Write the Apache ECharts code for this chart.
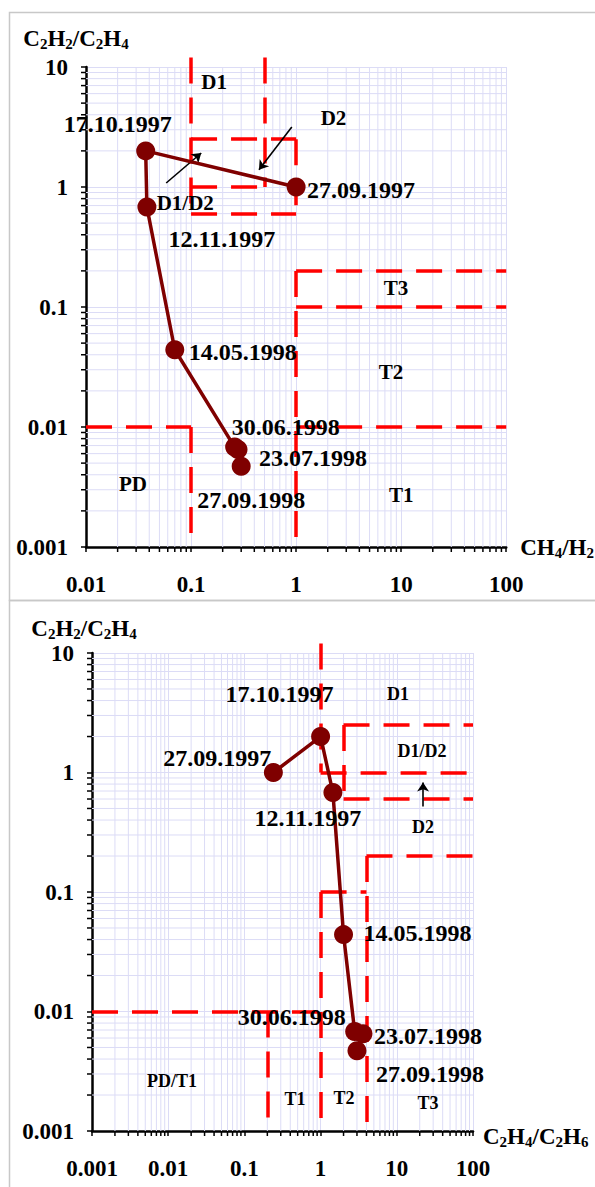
<!DOCTYPE html>
<html>
<head>
<meta charset="utf-8">
<script src="https://cdn.jsdelivr.net/npm/echarts@6/dist/echarts.min.js"></script>
<style>
html,body{margin:0;padding:0;background:#fff;}
#chart{width:595px;height:1187px;}
</style>
</head>
<body>
<div id="chart"></div>
<script>
// ---------- DATA ----------
const dates = ['27.09.1997','17.10.1997','12.11.1997','14.05.1998','30.06.1998','23.07.1998','27.09.1998'];
const ch4_h2 = [1.0, 0.037, 0.038, 0.07, 0.26, 0.28, 0.30];        // top chart x
const c2h2_c2h4 = [1.0, 2.0, 0.68, 0.044, 0.0068, 0.0065, 0.0047]; // both charts y
const c2h4_c2h6 = [0.24, 1.0, 1.45, 2.0, 2.8, 3.6, 3.0];          // bottom chart x

// zone boundaries (data coordinates) - top: CH4/H2 vs C2H2/C2H4
const zonesTop = [
  [[0.1, 12], [0.1, 0.6]],
  [[0.5, 12], [0.5, 1]],
  [[0.1, 2.5], [1, 2.5]],
  [[0.1, 1], [0.5, 1]],
  [[0.1, 0.6], [1, 0.6]],
  [[1, 2.5], [1, 0.6]],
  [[1, 0.2], [100, 0.2]],
  [[1, 0.1], [100, 0.1]],
  [[1, 0.2], [1, 0.001]],
  [[0.01, 0.01], [0.1, 0.01]],
  [[0.1, 0.01], [0.1, 0.001]],
  [[1, 0.01], [100, 0.01]]
];
// zone boundaries - bottom: C2H4/C2H6 vs C2H2/C2H4
const zonesBottom = [
  [[1, 12], [1, 1]],
  [[1, 1], [100, 1]],
  [[2, 2.5], [2, 0.6]],
  [[2, 2.5], [100, 2.5]],
  [[2, 0.6], [100, 0.6]],
  [[4, 0.2], [100, 0.2]],
  [[4, 0.2], [4, 0.001]],
  [[1, 0.1], [4, 0.1]],
  [[1, 0.1], [1, 0.001]],
  [[0.001, 0.01], [1, 0.01]],
  [[0.2, 0.01], [0.2, 0.001]]
];
// zone names (data coordinates)
const zoneNamesTop = ['D1', 'D2', 'D1/D2', 'T3', 'T2', 'T1', 'PD'];
const zoneXTop = [0.166, 2.27, 0.088, 8.95, 8.0, 10.0, 0.028];
const zoneYTop = [7.5, 3.76, 0.735, 0.144, 0.0287, 0.0027, 0.00335];
const zoneNamesBottom = ['D1', 'D1/D2', 'D2', 'PD/T1', 'T1', 'T2', 'T3'];
const zoneXBottom = [10.4, 21.4, 22.1, 0.0112, 0.46, 2.03, 25.6];
const zoneYBottom = [4.5, 1.5, 0.353, 0.0026, 0.00184, 0.0019, 0.00173];
// arrows (data coordinates)
const arrowsTop = [
  [[0.058, 1.08], [0.125, 1.92]],
  [[0.91, 3.16], [0.443, 1.39]]
];
const arrowsBottom = [
  [[22.1, 0.52], [22.1, 0.825]]
];
// tick decades
const xDecTop = [-2, -1, 0, 1];
const yDec = [-3, -2, -1, 0];
const xDecBottom = [-3, -2, -1, 0, 1];

// ---------- STYLE ----------
const FONT = '"Liberation Serif","Times New Roman",serif';
const GRID_C = '#dcdcf6';
const LINE_C = '#7f0000';
// label offsets (pixels from point centre) for each date
const offTop = [[65, 3], [-28, -27], [75, 32], [68, 2], [51, -20], [75, 9], [10, 34]];
const offBottom = [[-56, -15], [-41, -43], [-25, 25], [74, -2], [-63, -15], [65, 2], [73, 23]];

function minorData(xDec, yDecs, xmin, ymin) {
  const out = [];
  xDec.forEach(d => { for (let k = 2; k <= 9; k++) out.push([k * Math.pow(10, d), ymin, 0]); });
  yDecs.forEach(d => { for (let k = 2; k <= 9; k++) out.push([xmin, k * Math.pow(10, d), 1]); });
  return out;
}
function minorRender(params, api) {
  const cs = params.coordSys;
  const kind = api.value(2);
  const p = api.coord([api.value(0), api.value(1)]);
  if (kind === 0) {
    return {type: 'group', children: [
      {type: 'line', shape: {x1: p[0], y1: cs.y, x2: p[0], y2: cs.y + cs.height}, style: {stroke: GRID_C, lineWidth: 1}},
      {type: 'line', shape: {x1: p[0], y1: cs.y + cs.height, x2: p[0], y2: cs.y + cs.height + 5}, style: {stroke: '#000', lineWidth: 1.5}}
    ]};
  }
  return {type: 'group', children: [
    {type: 'line', shape: {x1: cs.x, y1: p[1], x2: cs.x + cs.width, y2: p[1]}, style: {stroke: GRID_C, lineWidth: 1}},
    {type: 'line', shape: {x1: cs.x - 5, y1: p[1], x2: cs.x, y2: p[1]}, style: {stroke: '#000', lineWidth: 1.5}}
  ]};
}

const richSub = {
  n: {fontSize: 23, fontWeight: 'bold', fontFamily: FONT, color: '#000', lineHeight: 26},
  s: {fontSize: 15, fontWeight: 'bold', fontFamily: FONT, color: '#000', lineHeight: 14, verticalAlign: 'bottom'}
};

function axisCommon(extra) {
  return Object.assign({
    type: 'log', logBase: 10,
    axisLine: {show: true, onZero: false, lineStyle: {color: '#000', width: 2.5}},
    axisTick: {show: true, inside: false, length: 5, lineStyle: {color: '#000', width: 1.5}},
    axisLabel: {fontSize: 23, fontWeight: 'bold', fontFamily: FONT, color: '#000'},
    splitLine: {show: true, lineStyle: {color: GRID_C, width: 1}},
    nameTextStyle: {rich: richSub}
  }, extra);
}

function seriesFor(gi, xs, offs, zones, zNames, zX, zY, arrows, zoneFont, xDec, xmin) {
  return [
    {
      type: 'custom', xAxisIndex: gi, yAxisIndex: gi, silent: true, z: 1,
      renderItem: minorRender, data: minorData(xDec, yDec, xmin, 0.001), clip: false
    },
    {
      type: 'lines', coordinateSystem: 'cartesian2d', xAxisIndex: gi, yAxisIndex: gi, silent: true, z: 3,
      clip: false, polyline: false, symbol: ['none', 'none'],
      lineStyle: {color: '#ff0000', width: 3.5, type: [26, 14], opacity: 1},
      data: zones.map(c => ({coords: c}))
    },
    {
      type: 'lines', coordinateSystem: 'cartesian2d', xAxisIndex: gi, yAxisIndex: gi, silent: true, z: 4,
      polyline: false, symbol: ['none', 'arrow'], symbolSize: 9,
      lineStyle: {color: '#000', width: 1.6, opacity: 1},
      data: arrows.map(c => ({coords: c}))
    },
    {
      type: 'scatter', xAxisIndex: gi, yAxisIndex: gi, silent: true, z: 4,
      symbol: 'circle', symbolSize: 1, itemStyle: {color: '#ffffff', opacity: 1},
      label: {show: true, position: 'inside', formatter: p => p.name,
        fontSize: zoneFont, fontWeight: 'bold', fontFamily: FONT, color: '#000000',
        textBorderWidth: 0, textBorderColor: 'transparent', opacity: 1},
      data: zNames.map((n, i) => ({name: n, value: [zX[i], zY[i]]}))
    },
    {
      type: 'line', xAxisIndex: gi, yAxisIndex: gi, z: 5,
      symbol: 'circle', symbolSize: 19, showAllSymbol: true,
      lineStyle: {color: LINE_C, width: 3.5},
      itemStyle: {color: LINE_C},
      label: {show: true, position: 'inside', formatter: p => p.name,
        fontSize: 24, fontWeight: 'bold', fontFamily: FONT, color: '#000',
        textBorderWidth: 0, textBorderColor: 'transparent'},
      data: dates.map((d, i) => ({name: d, value: [xs[i], c2h2_c2h4[i]], label: {offset: offs[i]}}))
    }
  ];
}

const chart = echarts.init(document.getElementById('chart'), null, {renderer: 'svg', width: 595, height: 1187});
const option = {
  animation: false,
  backgroundColor: '#fff',
  grid: [
    {left: 86, top: 67, width: 423, height: 480},
    {left: 92, top: 653, width: 381, height: 478}
  ],
  xAxis: [
    axisCommon({gridIndex: 0, min: 0.01, max: 100,
      axisLabel: {margin: 26, fontSize: 23, fontWeight: 'bold', fontFamily: FONT, color: '#000'},
      name: '{n|CH}{s|4}{n|/H}{s|2}', nameLocation: 'end', nameGap: 14,
      nameTextStyle: {rich: richSub, align: 'left', verticalAlign: 'middle'}}),
    axisCommon({gridIndex: 1, min: 0.001, max: 100,
      axisLabel: {margin: 26, fontSize: 23, fontWeight: 'bold', fontFamily: FONT, color: '#000'},
      name: '{n|C}{s|2}{n|H}{s|4}{n|/C}{s|2}{n|H}{s|6}', nameLocation: 'end', nameGap: 10,
      nameTextStyle: {rich: richSub, align: 'left', verticalAlign: 'middle', padding: [10, 0, 0, 0]}})
  ],
  yAxis: [
    axisCommon({gridIndex: 0, min: 0.001, max: 10,
      axisLabel: {margin: 18, fontSize: 23, fontWeight: 'bold', fontFamily: FONT, color: '#000'},
      name: '{n|C}{s|2}{n|H}{s|2}{n|/C}{s|2}{n|H}{s|4}', nameLocation: 'end', nameGap: 16,
      nameTextStyle: {rich: richSub, align: 'center', verticalAlign: 'bottom', padding: [0, 20, 0, 0]}}),
    axisCommon({gridIndex: 1, min: 0.001, max: 10,
      axisLabel: {margin: 18, fontSize: 23, fontWeight: 'bold', fontFamily: FONT, color: '#000'},
      name: '{n|C}{s|2}{n|H}{s|2}{n|/C}{s|2}{n|H}{s|4}', nameLocation: 'end', nameGap: 12,
      nameTextStyle: {rich: richSub, align: 'center', verticalAlign: 'bottom', padding: [0, 16, 0, 0]}})
  ],
  graphic: [
    {type: 'rect', silent: true, z: -10, shape: {x: 9.5, y: 12.5, width: 600, height: 588},
      style: {fill: 'none', stroke: '#c8c8c8', lineWidth: 1.5}},
    {type: 'rect', silent: true, z: -10, shape: {x: 9.5, y: 600.5, width: 600, height: 600},
      style: {fill: 'none', stroke: '#c8c8c8', lineWidth: 1.5}}
  ],
  series: [].concat(
    seriesFor(0, ch4_h2, offTop, zonesTop, zoneNamesTop, zoneXTop, zoneYTop, arrowsTop, 21, xDecTop, 0.01),
    seriesFor(1, c2h4_c2h6, offBottom, zonesBottom, zoneNamesBottom, zoneXBottom, zoneYBottom, arrowsBottom, 18, xDecBottom, 0.001)
  )
};
chart.setOption(option);
</script>
</body>
</html>
